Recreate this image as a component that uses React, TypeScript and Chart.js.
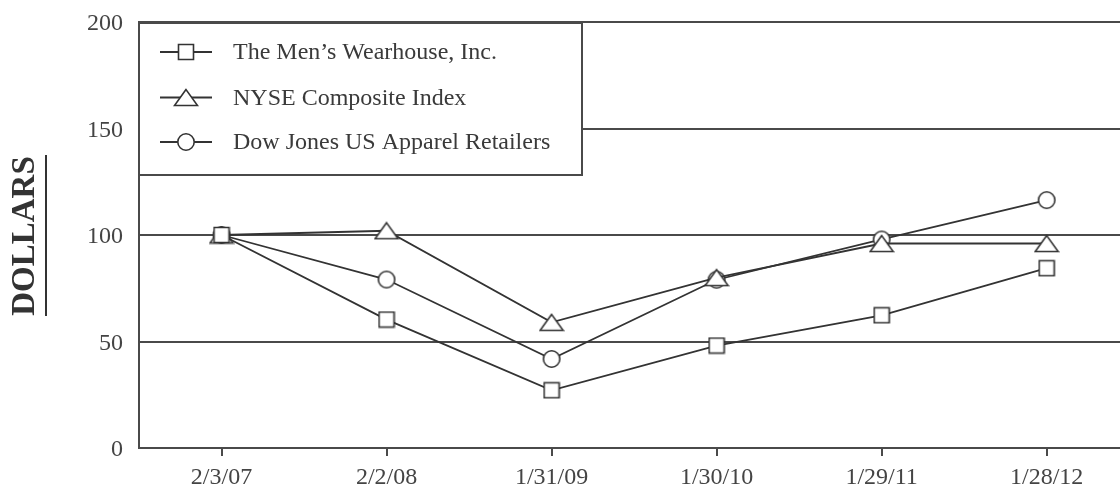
import React, { useEffect, useRef } from "react";
import { Chart, registerables } from "chart.js";

Chart.register(...registerables);

const categories = ["2/3/07", "2/2/08", "1/31/09", "1/30/10", "1/29/11", "1/28/12"];
const mensWearhouse = [100, 60.3, 27.1, 48.1, 62.3, 84.4];
const nyseComposite = [100, 102, 59, 80, 96, 96];
const dowJonesApparel = [100, 79.1, 41.8, 79, 97.9, 116.4];
const seriesNames = [
  "The Men\u2019s Wearhouse, Inc.",
  "NYSE Composite Index",
  "Dow Jones US Apparel Retailers",
];
const yAxisTitle = "DOLLARS";
const yMin = 0;
const yMax = 200;
const yStep = 50;

const INK = "#333";
const GRID = "#4a4a4a";
const SERIF = '"Liberation Serif", "Times New Roman", serif';

function makeMarker(shape: "square" | "triangle" | "circle"): HTMLCanvasElement {
  const c = document.createElement("canvas");
  let w = 18, h = 18;
  if (shape === "triangle") { w = 26; h = 19; }
  if (shape === "circle") { w = 20; h = 20; }
  c.width = w;
  c.height = h;
  const ctx = c.getContext("2d")!;
  ctx.fillStyle = "#fff";
  ctx.strokeStyle = INK;
  ctx.lineWidth = 1.6;
  ctx.beginPath();
  if (shape === "square") {
    ctx.rect(1.5, 1.5, 15, 15);
  } else if (shape === "triangle") {
    ctx.moveTo(13, 1.5);
    ctx.lineTo(1.5, 17.5);
    ctx.lineTo(24.5, 17.5);
    ctx.closePath();
  } else {
    ctx.arc(10, 10, 8.2, 0, Math.PI * 2);
  }
  ctx.fill();
  ctx.stroke();
  return c;
}

export default function App() {
  const ref = useRef<HTMLCanvasElement | null>(null);

  useEffect(() => {
    document.body.style.margin = "0";
    const markers = [makeMarker("square"), makeMarker("triangle"), makeMarker("circle")];

    const decor = {
      id: "decor",
      afterDraw(chart: any) {
        const ctx = chart.ctx as CanvasRenderingContext2D;
        const area = chart.chartArea;
        ctx.save();
        // Y axis title
        ctx.save();
        ctx.translate(25, 236);
        ctx.rotate(-Math.PI / 2);
        ctx.font = `bold 33px ${SERIF}`;
        ctx.fillStyle = INK;
        ctx.textAlign = "center";
        ctx.textBaseline = "middle";
        ctx.fillText(yAxisTitle, 0, 0);
        ctx.restore();
        ctx.strokeStyle = INK;
        ctx.lineWidth = 2;
        ctx.beginPath();
        ctx.moveTo(46, 155);
        ctx.lineTo(46, 316);
        ctx.stroke();

        // Legend box
        const bx = area.left;
        const by = area.top + 1;
        const bw = 582 - bx;
        const bh = 175 - by;
        ctx.fillStyle = "#fff";
        ctx.fillRect(bx, by, bw, bh);
        ctx.strokeStyle = GRID;
        ctx.lineWidth = 2;
        ctx.strokeRect(bx, by, bw, bh);

        const rows = [52, 97.5, 142];
        ctx.font = `24px ${SERIF}`;
        ctx.textAlign = "left";
        ctx.textBaseline = "middle";
        seriesNames.forEach((name, i) => {
          const y = rows[i];
          ctx.strokeStyle = INK;
          ctx.lineWidth = 1.8;
          ctx.beginPath();
          ctx.moveTo(160, y);
          ctx.lineTo(212, y);
          ctx.stroke();
          const m = markers[i];
          ctx.drawImage(m, 186 - m.width / 2, y - m.height / 2);
          ctx.fillStyle = "#3a3a3a";
          ctx.fillText(name, 233, y + 1);
        });
        ctx.restore();
      },
    };

    const chart = new Chart(ref.current!, {
      type: "line",
      data: {
        labels: categories,
        datasets: [mensWearhouse, nyseComposite, dowJonesApparel].map((d, i) => ({
          label: seriesNames[i],
          data: d,
          borderColor: INK,
          borderWidth: 1.8,
          pointStyle: markers[i] as any,
          pointRadius: 9,
          pointHoverRadius: 9,
          tension: 0,
          fill: false,
        })),
      },
      options: {
        animation: false,
        responsive: false,
        devicePixelRatio: 1,
        layout: { padding: { top: 22, right: 9, left: 0, bottom: 0 } },
        plugins: { legend: { display: false }, tooltip: { enabled: false } },
        scales: {
          x: {
            type: "category",
            offset: true,
            grid: {
              drawOnChartArea: false,
              drawTicks: true,
              tickLength: 8,
              offset: false,
              color: GRID,
              lineWidth: 2,
            },
            border: { display: true, color: GRID, width: 2 },
            ticks: {
              color: "#444",
              font: { family: SERIF, size: 24 },
              padding: 7,
              maxRotation: 0,
              autoSkip: false,
            },
            afterFit: (scale: any) => {
              scale.height = 40;
              scale.paddingLeft = 0;
              scale.paddingRight = 0;
            },
          },
          y: {
            min: yMin,
            max: yMax,
            ticks: {
              stepSize: yStep,
              color: "#444",
              font: { family: SERIF, size: 24 },
              padding: 16,
              labelOffset: 2,
            },
            grid: { drawTicks: false, color: GRID, lineWidth: 2 },
            border: { display: true, color: GRID, width: 2 },
            afterFit: (scale: any) => {
              scale.width = 139;
              scale.paddingTop = 0;
              scale.paddingBottom = 0;
            },
          },
        },
      },
      plugins: [decor],
    });
    return () => chart.destroy();
  }, []);

  return (
    <div style={{ width: 1120, height: 488, overflow: "hidden", position: "relative", background: "#fff" }}>
      <canvas ref={ref} width={1140} height={488} style={{ width: 1140, height: 488, display: "block" }} />
    </div>
  );
}
